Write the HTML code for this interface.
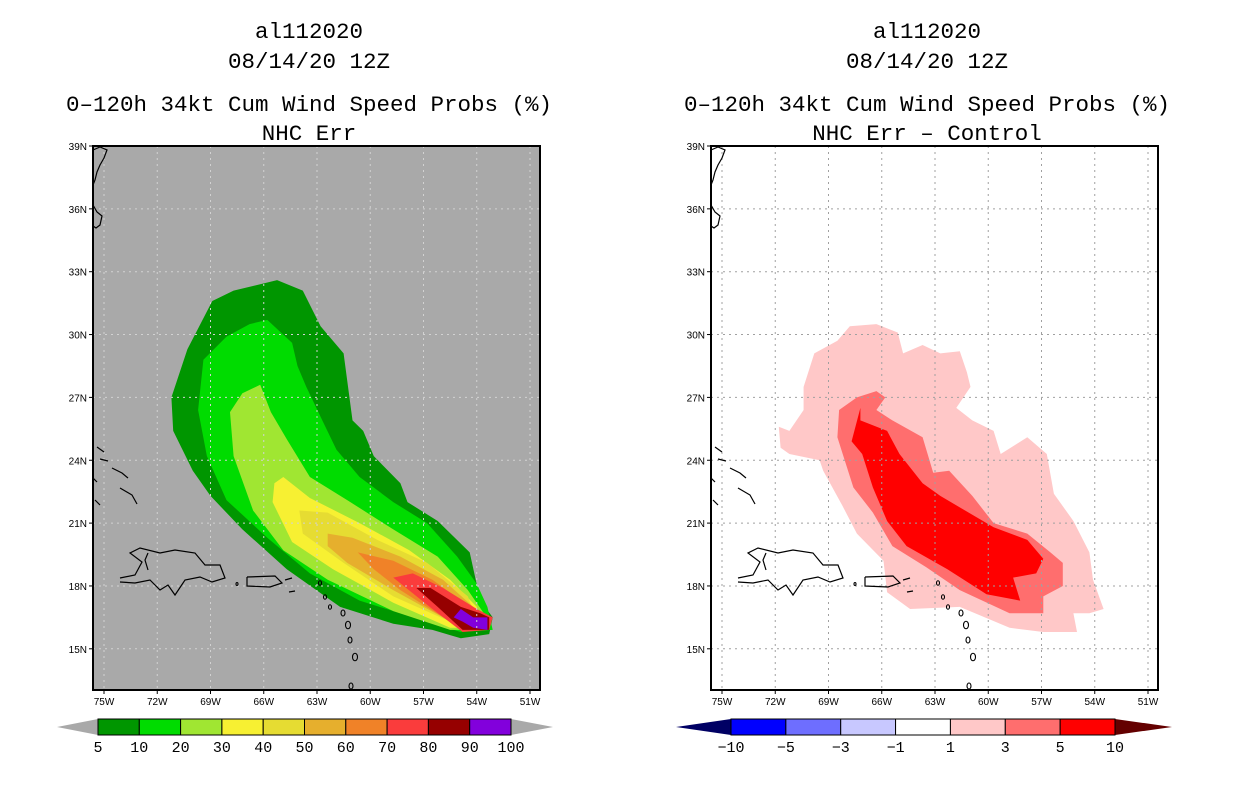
<!DOCTYPE html>
<html><head><meta charset="utf-8"><style>
html,body{margin:0;padding:0;background:#fff;width:1236px;height:800px;overflow:hidden}
svg{display:block}
text{font-family:"Liberation Sans",sans-serif}
.mono{font-family:"Liberation Mono",monospace}
</style></head><body>
<svg id="s" width="1236" height="800"></svg>
<script>
// ---- data ----
const probLevels = [5,10,20,30,40,50,60,70,80,90,100];
const probColors = ["#009600","#00dc00","#a0e632","#f7f032","#e6dc32","#e6af2d","#f08228","#fa3c3c","#960000","#8200dc"];
const diffLevels = [-10,-5,-3,-1,1,3,5,10];
const diffColors = ["#0000ff","#6e6eff","#c8c8ff","#ffffff","#ffc8c8","#ff6e6e","#ff0000"];
const lonTicks = [-75,-72,-69,-66,-63,-60,-57,-54,-51];
const latTicks = [39,36,33,30,27,24,21,18,15];
// contours (lon,lat pairs), left panel
const p5 = [[-65.25,32.6],[-63.8,32.1],[-62.8,30.4],[-61.5,29.1],[-61.0,25.9],[-60.4,25.4],[-59.8,24.2],[-58.3,22.9],[-57.9,22.0],[-56.2,21.1],[-54.4,19.6],[-53.8,17.3],[-53.1,16.5],[-53.3,15.7],[-54.9,15.5],[-56.5,15.9],[-58.7,16.2],[-61.7,17.0],[-64.7,18.8],[-67.2,20.7],[-69.0,22.3],[-70.0,23.5],[-71.1,25.4],[-71.2,27.0],[-70.3,29.3],[-68.9,31.6],[-67.7,32.1],[-66.2,32.4]];
const p10 = [[-65.8,30.7],[-64.4,29.6],[-64.1,28.5],[-63.6,27.5],[-62.7,25.9],[-61.9,24.5],[-60.6,23.2],[-58.7,22.0],[-56.8,21.0],[-55.1,19.4],[-54.0,18.1],[-53.4,17.0],[-53.1,15.9],[-54.9,15.8],[-57.2,16.4],[-60.6,17.3],[-63.4,18.6],[-65.8,20.3],[-68.1,22.1],[-69.2,24.2],[-69.7,26.4],[-69.4,28.8],[-68.1,29.9],[-66.8,30.5]];
const p20 = [[-66.2,27.6],[-65.6,26.3],[-64.7,25.0],[-63.4,23.2],[-61.3,22.1],[-58.7,20.7],[-56.2,19.4],[-54.5,17.8],[-53.6,16.7],[-53.8,15.9],[-55.5,15.9],[-58.7,16.8],[-62.4,18.3],[-64.9,19.7],[-66.6,21.6],[-67.7,24.2],[-67.9,26.3],[-67.2,27.2]];
const p30 = [[-64.9,23.2],[-63.4,22.2],[-60.6,21.0],[-57.8,19.7],[-55.5,18.3],[-54.0,17.0],[-53.8,16.0],[-55.5,16.0],[-58.7,17.2],[-62.1,18.8],[-64.4,20.1],[-65.5,22.0],[-65.4,22.9]];
const p40 = [[-64.0,21.6],[-62.4,21.5],[-59.6,20.2],[-56.8,19.1],[-54.5,17.5],[-54.0,16.3],[-55.5,16.3],[-58.7,17.5],[-61.5,19.1],[-63.8,20.5]];
const p50 = [[-62.4,20.5],[-61.0,20.3],[-58.3,19.4],[-55.9,18.3],[-54.2,17.0],[-54.2,16.3],[-55.7,16.4],[-58.7,17.8],[-61.3,19.1],[-62.4,19.9]];
const p60 = [[-60.7,19.6],[-58.7,19.2],[-56.5,18.3],[-54.4,17.0],[-54.2,16.3],[-55.7,16.4],[-58.3,17.8],[-59.8,18.8]];
const p70 = [[-58.7,18.4],[-57.6,18.6],[-55.9,17.9],[-54.0,16.9],[-53.1,16.5],[-53.3,15.9],[-54.8,15.8],[-56.5,16.9]];
const p80 = [[-57.4,17.9],[-56.6,17.9],[-54.9,17.0],[-53.8,16.7],[-53.3,16.5],[-53.3,15.9],[-54.8,15.9],[-56.2,17.0]];
const p90 = [[-54.9,16.9],[-54.2,16.5],[-53.4,16.5],[-53.4,15.9],[-54.2,16.0],[-54.8,16.3],[-55.3,16.5]];
// right panel
const d1 = [[-67.8,30.4],[-66.3,30.5],[-65.1,30.1],[-64.8,29.1],[-63.7,29.5],[-62.7,29.1],[-61.6,29.2],[-61.2,28.2],[-61.0,27.5],[-61.8,26.5],[-60.9,25.9],[-59.7,25.4],[-59.3,24.3],[-57.8,25.1],[-56.7,24.3],[-56.3,22.4],[-55.2,21.1],[-54.3,19.6],[-54.1,18.3],[-53.5,16.9],[-54.3,16.7],[-55.2,16.7],[-55.0,15.8],[-56.9,15.8],[-58.8,16.0],[-61.6,17.0],[-64.4,16.9],[-65.7,17.7],[-65.9,19.2],[-67.4,20.5],[-68.2,21.8],[-69.3,23.5],[-69.5,24.0],[-71.2,24.3],[-71.7,24.6],[-71.8,25.6],[-71.2,25.4],[-70.4,26.4],[-70.4,27.5],[-69.8,29.1],[-68.5,29.7]];
const d3 = [[-66.3,27.3],[-65.8,27.0],[-66.3,26.4],[-65.4,25.9],[-63.7,25.1],[-63.1,23.4],[-62.2,23.5],[-60.9,22.3],[-59.7,21.0],[-57.8,20.5],[-56.5,19.6],[-55.8,19.1],[-55.8,18.0],[-56.9,17.5],[-56.9,16.7],[-58.8,16.7],[-61.6,17.8],[-63.5,18.9],[-65.4,19.9],[-66.5,21.5],[-67.6,22.7],[-68.2,24.3],[-68.5,25.1],[-68.4,26.4],[-67.4,27.0]];
const d5 = [[-67.2,26.5],[-67.2,25.9],[-65.7,25.4],[-65.0,24.3],[-63.7,22.9],[-62.7,22.3],[-59.7,20.8],[-57.8,20.2],[-56.9,19.3],[-57.3,18.6],[-58.6,18.4],[-58.2,17.3],[-60.1,17.6],[-62.3,18.8],[-64.6,19.9],[-65.7,21.1],[-66.5,22.7],[-67.1,24.3],[-67.7,24.9]];

const NS="http://www.w3.org/2000/svg";
const svg=document.getElementById('s');
function el(tag,attrs,parent){const e=document.createElementNS(NS,tag);for(const k in attrs)e.setAttribute(k,attrs[k]);(parent||svg).appendChild(e);return e;}
const MW=447, MH=544, TOP=146;
function X(off,lon){return 104+off+(lon+75)*17.75;}
function Y(lat){return TOP+(39-lat)*20.95;}
function pts(off,arr){return arr.map(p=>X(off,p[0]).toFixed(1)+','+Y(p[1]).toFixed(1)).join(' ');}

function titles(cx,line4,name){
  const g=el('g',{});
  
  
  const L=[["al112020",38],["08/14/20 12Z",68],["0\u2013120h 34kt Cum Wind Speed Probs (%)",111],[line4,140]];
  L.forEach(l=>{const t=el('text',{x:cx,y:l[1],'text-anchor':'middle','font-size':22.5,fill:'#000',class:'mono'},g);t.textContent=l[0];});
}
titles(309,"NHC Err","left-title");
titles(927,"NHC Err \u2013 Control","right-title");

function coast(off,g){
  const o=off;
  const lines=[
   [[93,150],[100,147],[107,150],[104,158],[100,165],[97,172],[95,180],[93,185]],
   [[93,205],[97,212],[102,216],[100,225],[96,228],[93,226]],
   [[97,447],[104,452]],[[100,459],[108,461]],[[112,468],[122,473],[128,478]],[[120,488],[132,495],[137,504]],
   [[93,478],[97,482]],[[95,500],[100,505]],
   [[120,578],[135,575],[142,562],[130,553],[140,548],[160,553],[175,550],[195,553],[205,565],[220,565],[225,578],[212,582],[200,577],[185,580],[175,595],[168,585],[160,590],[150,580],[135,583],[120,582]],
   [[148,553],[145,560],[148,570]],
   [[247,577],[275,576],[282,583],[270,587],[247,586],[247,577]],
   [[285,580],[292,578]],[[289,592],[295,591]]
  ];
  lines.forEach(l=>{el('polyline',{points:l.map(p=>(p[0]+o)+','+p[1]).join(' '),fill:'none',stroke:'#000','stroke-width':1.2},g);});
  [[237,584,1],[320,583,1.5],[325,597,1.5],[330,607,1.5],[343,613,2],[348,625,2.5],[350,640,2],[355,657,2.5],[351,686,2]].forEach(c=>{
    el('ellipse',{cx:c[0]+o,cy:c[1],rx:c[2],ry:c[2]*1.5,fill:'none',stroke:'#000','stroke-width':1.1},g);
  });
}

function panel(off,bg,gridCol,polys,cols,name,prefix){
  const g=el('g',{});
  
  
  const cid='clip'+off;
  const cp=el('clipPath',{id:cid},g);
  el('rect',{x:93+off,y:TOP,width:MW,height:MH},cp);
  el('rect',{x:93+off,y:TOP,width:MW,height:MH,fill:bg},g);
  const inner=el('g',{'clip-path':'url(#'+cid+')'},g);
  polys.forEach((p,i)=>{
    const poly=el('polygon',{points:pts(off,p),fill:cols[i]},inner);
    
    
  });
  lonTicks.forEach(l=>{const x=X(off,l);el('line',{x1:x,x2:x,y1:TOP,y2:TOP+MH,stroke:gridCol,'stroke-dasharray':'2,4','stroke-width':1},inner);});
  latTicks.forEach(l=>{const y=Y(l);el('line',{x1:93+off,x2:93+off+MW,y1:y,y2:y,stroke:gridCol,'stroke-dasharray':'2,4','stroke-width':1},inner);});
  coast(off,inner);
  el('rect',{x:93+off,y:TOP,width:MW,height:MH,fill:'none',stroke:'#000','stroke-width':2},g);
  lonTicks.forEach(l=>{const x=X(off,l);el('line',{x1:x,x2:x,y1:TOP+MH,y2:TOP+MH+4,stroke:'#000'},g);
    const t=el('text',{x:x,y:TOP+MH+15,'text-anchor':'middle','font-size':10},g);t.textContent=Math.abs(l)+'W';});
  latTicks.forEach(l=>{const y=Y(l);el('line',{x1:89+off,x2:93+off,y1:y,y2:y,stroke:'#000'},g);
    const t=el('text',{x:87+off,y:y+4,'text-anchor':'end','font-size':10},g);t.textContent=l+'N';});
}
panel(0,"#a9a9a9","#d2d2d2",[p5,p10,p20,p30,p40,p50,p60,p70,p80,p90],probColors,"left-map","prob");
panel(618,"#ffffff","#a0a0a0",[d1,d3,d5],["#ffc8c8","#ff6e6e","#ff0000"],"right-map","diff");

function colorbar(x0,x1,tipL,tipR,colors,labels,triL,triR,name){
  const g=el('g',{});
  
  
  const y0=719,y1=735,w=(x1-x0)/colors.length;
  el('polygon',{points:`${x0},${y0} ${tipL},${(y0+y1)/2} ${x0},${y1}`,fill:triL},g);
  el('polygon',{points:`${x1},${y0} ${tipR},${(y0+y1)/2} ${x1},${y1}`,fill:triR},g);
  colors.forEach((c,i)=>{el('rect',{x:x0+i*w,y:y0,width:w,height:y1-y0,fill:c,stroke:'#000','stroke-width':1},g);});
  labels.forEach((l,i)=>{const t=el('text',{x:x0+i*w,y:752,'text-anchor':'middle','font-size':15,class:'mono'},g);t.textContent=String(l).replace('-','\u2212');});
}
colorbar(98,511,57,553,probColors,probLevels,"#a9a9a9","#a9a9a9","left-colorbar");
colorbar(731,1115,676,1172,diffColors,diffLevels,"#000064","#640000","right-colorbar");
</script>
</body></html>
